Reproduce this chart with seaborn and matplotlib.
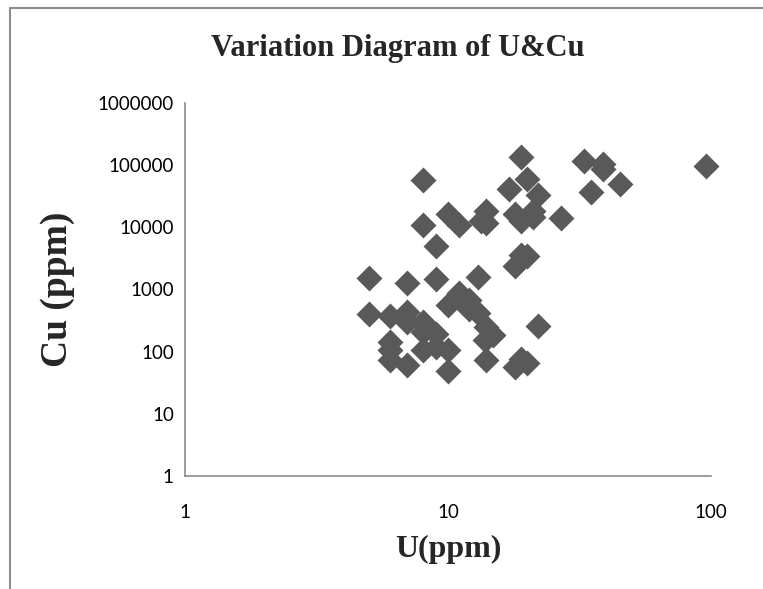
import numpy as np
import pandas as pd
import matplotlib
matplotlib.use("Agg")
import matplotlib.pyplot as plt
from matplotlib.lines import Line2D
from matplotlib.ticker import FixedLocator, FixedFormatter, NullLocator
import seaborn as sns

# U (ppm) and Cu (ppm)
u_ppm = [5.0, 5.0, 6.0, 6.0, 6.0, 6.0, 7.0, 7.0, 7.0, 7.0,
         8.0, 8.0, 8.0, 8.0, 8.0, 9.0, 9.0, 9.0, 9.0, 10.0,
         10.0, 10.0, 10.0, 11.0, 11.0, 12.0, 12.0, 13.0, 13.0, 13.4,
         14.0, 14.0, 14.0, 13.8, 14.8, 14.0, 17.0, 18.0, 18.0, 18.0,
         19.0, 19.0, 19.0, 19.0, 20.0, 20.0, 20.0, 21.0, 21.0, 22.0,
         22.0, 27.0, 33.0, 35.0, 39.0, 39.0, 45.0, 96.0]
cu_ppm = [1500, 400, 370, 140, 105, 73, 1250, 430, 300, 60,
          58000, 10800, 300, 210, 105, 5000, 1450, 190, 120, 16000,
          560, 105, 49, 11000, 860, 680, 480, 1600, 420, 12500,
          18500, 11500, 250, 155, 185, 73, 41000, 16500, 2400, 56,
          135000, 12500, 3600, 75, 60000, 3400, 66, 18500, 14500, 33000,
          260, 14000, 115000, 37000, 105000, 85000, 50000, 95000]

y_ticks = [1, 10, 100, 1000, 10000, 100000, 1000000]
x_ticks = [1, 10, 100]

df = pd.DataFrame({"U": u_ppm, "Cu": cu_ppm})

sns.set_style("white")
plt.rcParams["font.family"] = ["Lato", "DejaVu Sans"]

fig = plt.figure(figsize=(7.63, 5.89), dpi=100)
ax = fig.add_axes([0.2425, 0.1919, 0.6894, 0.6337])

sns.scatterplot(data=df, x="U", y="Cu", marker="D", s=175, color="#595959",
                linewidth=0, ax=ax, clip_on=False)

ax.set_xscale("log")
ax.set_yscale("log")
ax.set_xlim(1, 100)
ax.set_ylim(1, 1000000)

ax.xaxis.set_major_locator(FixedLocator(x_ticks))
ax.xaxis.set_major_formatter(FixedFormatter([str(t) for t in x_ticks]))
ax.xaxis.set_minor_locator(NullLocator())
ax.yaxis.set_major_locator(FixedLocator(y_ticks))
ax.yaxis.set_major_formatter(FixedFormatter([str(t) for t in y_ticks]))
ax.yaxis.set_minor_locator(NullLocator())

for side in ["top", "right"]:
    ax.spines[side].set_visible(False)
for side in ["left", "bottom"]:
    ax.spines[side].set_color("#8c8c8c")
    ax.spines[side].set_linewidth(1.2)

ax.tick_params(axis="both", which="major", direction="out", length=5,
               width=1.2, color="#8c8c8c", labelsize=13.5, labelcolor="black")
ax.tick_params(axis="y", pad=3)
ax.tick_params(axis="x", pad=15)

serif = ["Liberation Serif", "DejaVu Serif"]
ax.set_xlabel("U(ppm)", fontsize=23, fontweight="bold", family=serif, labelpad=10)
ax.set_ylabel("Cu (ppm)", fontsize=27, fontweight="bold", family=serif, labelpad=16)
fig.text(0.521, 0.918, "Variation Diagram of U&Cu", ha="center", va="center",
         fontsize=22, fontweight="bold", family=serif)

# outer chart frame (top and left edges only are visible)
fig.add_artist(Line2D([10 / 763, 1.0], [1 - 8 / 589, 1 - 8 / 589],
                      transform=fig.transFigure, color="#8c8c8c", linewidth=1.5))
fig.add_artist(Line2D([10 / 763, 10 / 763], [0.0, 1 - 8 / 589],
                      transform=fig.transFigure, color="#8c8c8c", linewidth=1.5))

fig.savefig("out.png", dpi=100)
